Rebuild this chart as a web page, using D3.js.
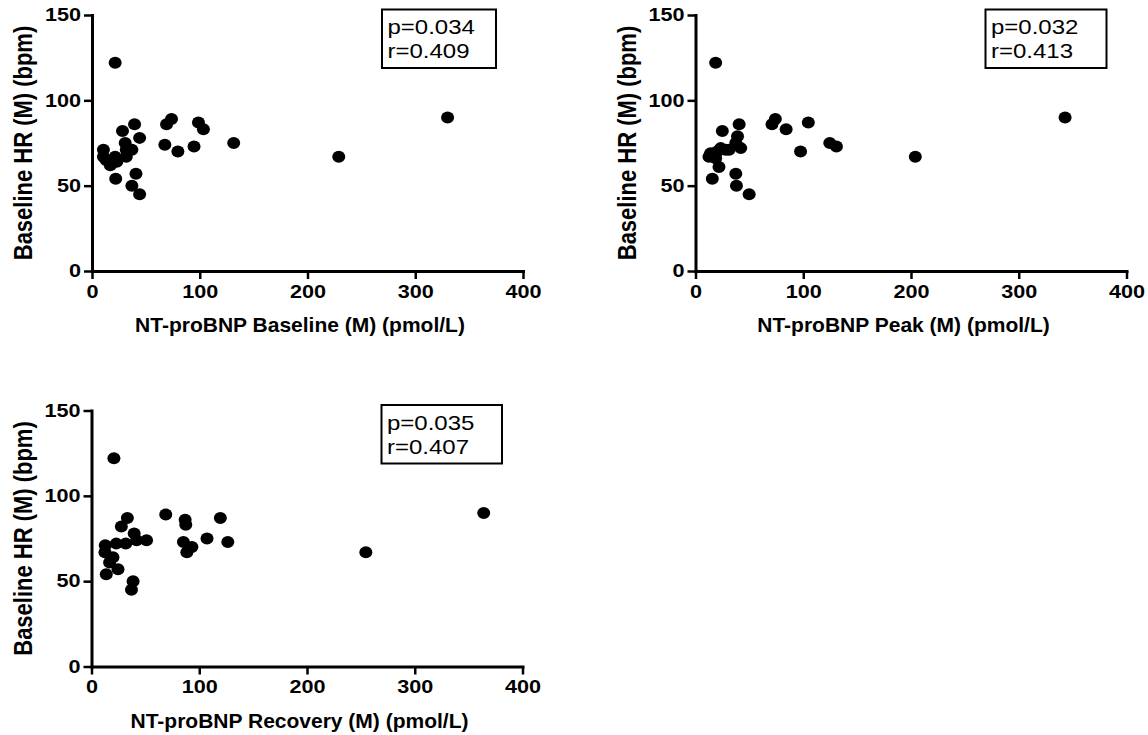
<!DOCTYPE html>
<html>
<head>
<meta charset="utf-8">
<script src="https://cdn.jsdelivr.net/npm/d3@7"></script>
<style>
  body { margin: 0; background: #fff; }
  svg text { font-family: "Liberation Sans", Arial, sans-serif; fill: #000; }
  .axis .domain { stroke: #000; stroke-width: 3; stroke-linecap: square; }
  .axis .tick line { stroke: #000; stroke-width: 2.5; }
  .axis .tick text { font-size: 18px; font-weight: bold; }
  .title { font-size: 21px; font-weight: bold; }
  .stat { font-size: 20px; }
</style>
</head>
<body>
<div id="chart"></div>
<script>
// values, one pair of arrays per panel
const baselineX = [21.5, 39.5, 28.3, 44.2, 73.8, 69.2, 98.8, 103.4, 131.5, 67.6, 79.7, 94.7, 10.6, 10.6, 17, 21.5, 23, 30.8, 31.8, 37, 31.8, 22, 40.8, 37, 44.2, 13, 229, 330];
const baselineY = [122, 86, 82, 78, 89, 86, 87, 83, 75, 74, 70, 73, 71, 67, 62, 67, 64, 75, 71, 71, 67, 54, 57, 50, 45, 65, 67, 90];

const peakX = [18.7, 40.5, 24.9, 74.1, 71, 84.1, 104.7, 124.6, 130.8, 97.5, 39, 42, 37.4, 31.2, 23.4, 14, 12.5, 18.7, 21.8, 15.6, 37.4, 38, 49.8, 20.2, 28, 204, 343];
const peakY = [122, 86, 82, 89, 86, 83, 87, 75, 73, 70, 79, 72, 75, 71, 72, 69, 67, 66, 61, 54, 57, 50, 45, 70, 71, 67, 90];

const recoveryX = [20.8, 68.9, 33.3, 27.7, 86.9, 87.5, 119.6, 107.2, 126.5, 51.1, 39.6, 41.8, 31.8, 23, 12.8, 12.5, 19.9, 16.8, 24.6, 13.7, 85.3, 93.2, 88.5, 38.6, 37.1, 254.6, 364];
const recoveryY = [122, 89, 87, 82, 86, 83, 87, 75, 73, 74, 78, 74, 72, 72, 71, 67, 64, 61, 57, 54, 73, 70, 67, 50, 45, 67, 90];

const xTicks = [0, 100, 200, 300, 400];
const yTicks = [0, 50, 100, 150];
const xTitles = ["NT-proBNP Baseline (M) (pmol/L)", "NT-proBNP Peak (M) (pmol/L)", "NT-proBNP Recovery (M) (pmol/L)"];
const yTitle = "Baseline HR (M) (bpm)";
const pValues = ["p=0.034", "p=0.032", "p=0.035"];
const rValues = ["r=0.409", "r=0.413", "r=0.407"];

const WIDTH = 1148;
const HEIGHT = 735;
const PLOT_W = 431;
const PLOT_H = 256;
const STRETCH = 1.2; // the original's lettering is a bit wider than plain Arial

// where each plot's origin sits (left = y axis, top = 150 line)
const PANELS = [
    { left: 92, top: 15, xs: baselineX, ys: baselineY, boxW: 114 },
    { left: 695.5, top: 15, xs: peakX, ys: peakY, boxW: 121 },
    { left: 91.5, top: 410.5, xs: recoveryX, ys: recoveryY, boxW: 120.5 }
];

const svg = d3.select("#chart")
    .append("svg")
    .attr("width", WIDTH)
    .attr("height", HEIGHT);

const X_SCALE = d3.scaleLinear().domain([0, 400]).range([0, PLOT_W]);
const Y_SCALE = d3.scaleLinear().domain([0, 150]).range([PLOT_H, 0]);

PANELS.forEach((p, i) => {
    const g = svg.append("g")
        .attr("transform", "translate(" + p.left + "," + p.top + ")");

    // x axis
    const xAxis = g.append("g")
        .attr("class", "axis")
        .attr("transform", "translate(0," + PLOT_H + ")")
        .call(d3.axisBottom(X_SCALE).tickValues(xTicks).tickSize(8).tickSizeOuter(0).tickPadding(6))
        .attr("font-family", null).attr("font-size", null);
    xAxis.selectAll(".tick text").attr("transform", "scale(" + STRETCH + ",1)");

    // y axis
    const yAxis = g.append("g")
        .attr("class", "axis")
        .call(d3.axisLeft(Y_SCALE).tickValues(yTicks).tickSize(8).tickSizeOuter(0).tickPadding(3))
        .attr("font-family", null).attr("font-size", null);
    yAxis.selectAll(".tick text")
        .attr("x", -11 / STRETCH)
        .attr("transform", "scale(" + STRETCH + ",1)");

    // axis titles
    g.append("text")
        .attr("class", "title")
        .attr("text-anchor", "middle")
        .attr("x", 208)
        .attr("y", PLOT_H + 61)
        .text(xTitles[i]);

    g.append("text")
        .attr("class", "title")
        .attr("text-anchor", "middle")
        .style("font-size", "22px")
        .attr("transform", "translate(-60," + (PLOT_H / 2) + ") rotate(-90) scale(1,1.15)")
        .text(yTitle);

    // points
    const pts = p.xs.map((x, k) => ({ x: x, y: p.ys[k] }));
    g.selectAll("ellipse")
        .data(pts)
        .enter()
        .append("ellipse")
        .attr("cx", (d) => X_SCALE(d.x))
        .attr("cy", (d) => Y_SCALE(d.y))
        .attr("rx", 6.5)
        .attr("ry", 6)
        .style("fill", "#000");

    // stats box
    g.append("rect")
        .attr("x", 290)
        .attr("y", -5.5)
        .attr("width", p.boxW)
        .attr("height", 58.5)
        .style("fill", "#fff")
        .style("stroke", "#000")
        .style("stroke-width", 2);

    g.append("text").attr("class", "stat").attr("x", 295.5 / STRETCH).attr("y", 19.5)
        .attr("transform", "scale(" + STRETCH + ",1)").text(pValues[i]);
    g.append("text").attr("class", "stat").attr("x", 295.5 / STRETCH).attr("y", 43.5)
        .attr("transform", "scale(" + STRETCH + ",1)").text(rValues[i]);
});
</script>
</body>
</html>
